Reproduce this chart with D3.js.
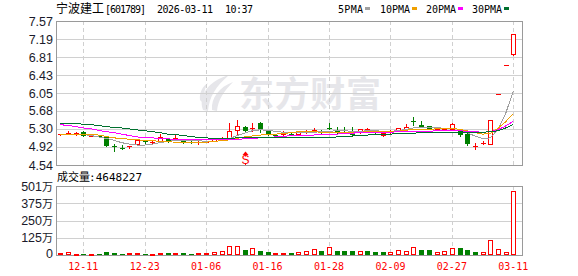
<!DOCTYPE html>
<html><head><meta charset="utf-8">
<script src="https://cdn.jsdelivr.net/npm/d3@7/dist/d3.min.js"></script>
<style>body{margin:0;background:#fff}svg{display:block}</style>
</head><body>
<svg id="c" width="578" height="276"></svg>
<script>
// ---------- data ----------
const open  = [5.19,5.21,5.21,5.24,5.15,5.16,5.12,4.94,4.90,4.91, 4.99,5.04,5.02,5.04,5.08,5.10,5.06,5.03,5.00,5.01, 5.05,5.08,5.10,5.28,5.35,5.30,5.43,5.26,5.18,5.19, 5.20,5.19,5.25,5.27,5.26,5.32,5.25,5.24,5.20,5.23, 5.28,5.24,5.18,5.24,5.26,5.29,5.46,5.39,5.36,5.29, 5.29,5.30,5.26,5.19,4.94,5.00,4.98,6.04,6.64,6.88];
const high  = [5.20,5.26,5.24,5.26,5.16,5.17,5.13,4.99,4.96,4.94, 5.08,5.06,5.04,5.20,5.10,5.19,5.07,5.04,5.04,5.03, 5.10,5.12,5.42,5.48,5.36,5.43,5.44,5.27,5.20,5.25, 5.22,5.24,5.27,5.32,5.27,5.43,5.35,5.35,5.35,5.30, 5.32,5.27,5.22,5.27,5.32,5.41,5.56,5.46,5.37,5.31, 5.31,5.42,5.27,5.21,5.00,5.04,5.49,6.04,6.64,7.30];
const low   = [5.18,5.20,5.17,5.14,5.14,5.14,4.95,4.83,4.88,4.89, 4.98,5.01,5.01,5.03,5.03,5.08,5.01,5.00,4.98,5.00, 5.04,5.06,5.09,5.20,5.24,5.26,5.24,5.18,5.14,5.18, 5.17,5.18,5.22,5.23,5.20,5.29,5.22,5.22,5.16,5.22, 5.26,5.21,5.14,5.22,5.25,5.28,5.39,5.33,5.30,5.28, 5.28,5.29,5.16,4.97,4.88,4.99,4.98,6.04,6.64,6.86];
const close = [5.20,5.22,5.22,5.15,5.16,5.15,4.95,4.93,4.89,4.93, 5.07,5.03,5.03,5.12,5.05,5.11,5.02,5.01,5.02,5.02, 5.08,5.09,5.26,5.36,5.26,5.31,5.30,5.18,5.17,5.23, 5.19,5.23,5.26,5.28,5.23,5.31,5.24,5.23,5.19,5.29, 5.29,5.23,5.21,5.25,5.31,5.33,5.44,5.33,5.30,5.30, 5.30,5.41,5.17,4.98,4.95,5.01,5.49,6.04,6.64,7.30];
// volume in 万 shares
const volume = [17,22,7,8,8,8,22,15,8,14, 15,8,7,15,14,14,14,8,13,14, 22,27,65,65,36,48,31,24,14,14, 14,22,29,43,29,58,29,29,29,29, 29,22,22,22,36,29,58,36,36,22, 29,50,53,36,22,22,109,43,22,464.8];
// volume bar direction: u = up (red), d = down (green)
const volDir = ["u","u","u","d","u","d","d","d","d","u", "u","d","u","u","d","u","d","d","u","u", "u","u","u","u","d","u","d","d","u","u", "d","u","u","u","d","u","d","d","d","u", "d","d","d","u","u","u","u","d","d","u", "u","u","d","d","d","u","u","u","u","u"];
const ma5  = [5.19,5.19,5.19,5.18,5.16,5.13,5.10,5.06,5.01,4.98, 4.96,4.96,4.98,5.01,5.04,5.05,5.05,5.05,5.05,5.04, 5.04,5.05,5.09,5.16,5.21,5.26,5.28,5.27,5.25,5.23, 5.23,5.23,5.22,5.23,5.24,5.25,5.26,5.26,5.25,5.25, 5.26,5.26,5.25,5.25,5.26,5.29,5.32,5.33,5.33,5.33, 5.31,5.31,5.29,5.22,5.15,5.10,5.11,5.29,5.62,6.10];
const ma10 = [5.19,5.19,5.19,5.19,5.18,5.17,5.14,5.11,5.10,5.08, 5.07,5.06,5.05,5.04,5.03,5.02,5.01,5.01,5.01,5.02, 5.04,5.05,5.07,5.10,5.13,5.15,5.17,5.18,5.19,5.20, 5.22,5.24,5.24,5.24,5.23,5.22,5.22,5.22,5.22,5.23, 5.24,5.25,5.25,5.25,5.25,5.27,5.29,5.29,5.29,5.30, 5.30,5.31,5.29,5.26,5.22,5.19,5.20,5.31,5.45,5.62];
const ma20 = [5.39,5.37,5.35,5.32,5.30,5.27,5.24,5.22,5.19,5.16, 5.13,5.12,5.11,5.10,5.09,5.08,5.08,5.07,5.07,5.07, 5.07,5.07,5.08,5.08,5.09,5.10,5.11,5.12,5.13,5.14, 5.16,5.17,5.17,5.17,5.18,5.18,5.19,5.20,5.21,5.22, 5.22,5.23,5.23,5.23,5.24,5.25,5.25,5.25,5.25,5.26, 5.26,5.26,5.26,5.25,5.24,5.23,5.24,5.28,5.36,5.46];
const ma30 = [5.42,5.41,5.41,5.40,5.39,5.37,5.35,5.33,5.32,5.30, 5.28,5.26,5.24,5.22,5.19,5.18,5.16,5.14,5.12,5.11, 5.10,5.10,5.10,5.11,5.11,5.12,5.12,5.12,5.12,5.12, 5.11,5.11,5.11,5.11,5.11,5.12,5.13,5.14,5.15,5.16, 5.17,5.18,5.18,5.19,5.20,5.21,5.21,5.22,5.22,5.22, 5.22,5.23,5.23,5.23,5.23,5.23,5.24,5.26,5.32,5.39];
const priceTicks = [7.57,7.19,6.81,6.43,6.05,5.68,5.30,4.92,4.54];
const priceTickLabels = ["7.57","7.19","6.81","6.43","6.05","5.68","5.30","4.92","4.54"];
const volTicks = [501,375,250,125,0];
const volTickLabels = ["501","375","250","125","0"];
const dateIdx = [3,11,19,27,35,43,51,59];
const dateLabels = ["12-11","12-23","01-06","01-16","01-28","02-09","02-27","03-11"];
const signalIdx = 24;
const title = {name:"宁波建工", code:"[601789]", date:"2026-03-11", time:"10:37"};
const maNames = ["5PMA","10PMA","20PMA","30PMA"];
const maColors = ["#a0a0a0","#f0a000","#ff00ff","#00702e"];
const volTotal = "4648227";

// ---------- layout ----------
const L = 56, R = 522, T = 21, B = 165, VT = 186, VB = 255;
const svg = d3.select("#c");
const x = d3.scaleLinear().domain([3, 59]).range([83.3, 513.3]);
const y = d3.scaleLinear().domain([4.54, 7.57]).range([B, T]);
const yv = d3.scaleLinear().domain([0, 501]).range([VB, VT]);
const RED = "#ff0000", GREEN = "#008000";
const cjk = "'Noto Sans CJK SC', sans-serif";
const mono = "'DejaVu Sans Mono', monospace";
const sans = "'Liberation Sans', Arial, sans-serif";

svg.append("rect").attr("width",578).attr("height",276).attr("fill","#fff");

// header
const hdr = svg.append("g").attr("fill","#000");
hdr.append("text").attr("x",56).attr("y",13).attr("font-family",cjk).attr("font-size",12).text(title.name);
hdr.append("text").attr("x",105).attr("y",13).attr("font-family",mono).attr("font-size",10).attr("textLength",41).text(title.code);
hdr.append("text").attr("x",157).attr("y",13).attr("font-family",mono).attr("font-size",10).attr("textLength",56).text(title.date);
hdr.append("text").attr("x",225).attr("y",13).attr("font-family",mono).attr("font-size",10).attr("textLength",28).text(title.time);

// legend
const legX = [338,380,426,472], legW = [25,30,30,30];
maNames.forEach((n,k)=>{
  hdr.append("text").attr("x",legX[k]).attr("y",12.5).attr("font-family",mono).attr("font-size",10)
     .attr("textLength",legW[k]).text(n);
  svg.append("rect").attr("x",legX[k]+legW[k]+2).attr("y",7).attr("width",5).attr("height",3).attr("fill",maColors[k]);
});

// watermark
const wm = svg.append("g").attr("fill","#e6e6ea");
wm.append("path").attr("d","M203,110 C198,96 208,81 229,75 C216,86 209,97 208,111 Z");
wm.append("path").attr("d","M212,110 C211,98 219,87 233,82 C224,91 218,100 217,111 Z");
wm.append("path").attr("d","M200,100 C199,92 203,86 208,83 C204,90 203,96 204,104 Z");
wm.append("text").attr("x",239).attr("y",107).attr("font-family",cjk).attr("font-weight","bold")
  .attr("font-size",35).attr("textLength",142).text("东方财富");

// grids
const grid = svg.append("g").attr("stroke","#d0d0d0").attr("stroke-width",1).attr("shape-rendering","crispEdges");
priceTicks.slice(1,-1).forEach(v=>{
  const yy = Math.round(y(v))+0.5;
  grid.append("line").attr("x1",L).attr("x2",R).attr("y1",yy).attr("y2",yy);
});
volTicks.slice(1,-1).forEach(v=>{
  const yy = Math.round(yv(v))+0.5;
  grid.append("line").attr("x1",L).attr("x2",R).attr("y1",yy).attr("y2",yy);
});
dateIdx.forEach(i=>{
  const xx = Math.round(x(i))+0.5;
  grid.append("line").attr("x1",xx).attr("x2",xx).attr("y1",T).attr("y2",B).attr("stroke-dasharray","4,3");
  grid.append("line").attr("x1",xx).attr("x2",xx).attr("y1",VT).attr("y2",VB).attr("stroke-dasharray","4,3");
});

// borders
const bd = svg.append("g").attr("fill","none").attr("stroke","#9a9a9a").attr("shape-rendering","crispEdges");
bd.append("rect").attr("x",L+0.5).attr("y",T+0.5).attr("width",R-L).attr("height",B-T);
bd.append("rect").attr("x",L+0.5).attr("y",VT+0.5).attr("width",R-L).attr("height",VB-VT);

// y labels
const yl = svg.append("g").attr("font-family",sans).attr("font-size",12.5).attr("fill","#1a1a2a").attr("text-anchor","end");
priceTicks.forEach((v,k)=>{
  yl.append("text").attr("x",53).attr("y",y(v)+4.5).text(priceTickLabels[k]);
});
volTicks.forEach((v,k)=>{
  const t = yl.append("text").attr("x",53).attr("y",yv(v)+4.5 - (v===0?1.5:0));
  if (v===0) t.text(volTickLabels[k]);
  else { t.append("tspan").text(volTickLabels[k]); t.append("tspan").attr("font-family",cjk).attr("font-size",11).text("万"); }
});

// volume title
svg.append("text").attr("x",57).attr("y",181).attr("font-family",cjk).attr("font-size",11).attr("fill","#000").text("成交量");
svg.append("text").attr("x",89).attr("y",181).attr("font-family",mono).attr("font-size",11).attr("fill","#000")
   .attr("textLength",53).text(":"+volTotal);

// date labels
const xl = svg.append("g").attr("font-family",mono).attr("font-size",10).attr("fill",RED).attr("text-anchor","middle");
dateIdx.forEach((i,k)=>{ xl.append("text").attr("x",x(i)).attr("y",270).text(dateLabels[k]); });

// candles
const cg = svg.append("g").attr("shape-rendering","crispEdges");
d3.range(open.length).forEach(i=>{
  const cx = Math.round(x(i))+0.5;
  const up = close[i] >= open[i];
  const col = up ? RED : GREEN;
  const yTop = Math.round(y(Math.max(open[i],close[i])));
  const yBot = Math.round(y(Math.min(open[i],close[i])));
  const yH = Math.round(y(high[i])), yL = Math.round(y(low[i]));
  if (up) {
    if (yH < yTop) cg.append("line").attr("x1",cx).attr("x2",cx).attr("y1",yH).attr("y2",yTop).attr("stroke",col);
    if (yL > yBot) cg.append("line").attr("x1",cx).attr("x2",cx).attr("y1",yBot).attr("y2",yL+1).attr("stroke",col);
    if (yBot - yTop < 2) {
      cg.append("rect").attr("x",cx-2.5).attr("y",yTop).attr("width",5).attr("height",Math.max(1,yBot-yTop)).attr("fill",col);
    } else {
      cg.append("rect").attr("x",cx-2).attr("y",yTop+0.5).attr("width",4).attr("height",yBot-yTop)
        .attr("fill","#fff").attr("stroke",col);
    }
  } else {
    cg.append("line").attr("x1",cx).attr("x2",cx).attr("y1",yH).attr("y2",yL+1).attr("stroke",col);
    cg.append("rect").attr("x",cx-2.5).attr("y",yTop).attr("width",5).attr("height",Math.max(1,yBot-yTop)).attr("fill",col);
  }
});

// MA lines
const line = d3.line().x((d,i)=>x(i)).y(d=>y(d));
[ma5,ma10,ma20,ma30].forEach((arr,k)=>{
  svg.append("path").attr("d",line(arr)).attr("fill","none").attr("stroke",maColors[k]).attr("stroke-width",1)
     .attr("shape-rendering","crispEdges");
});

// signal marker
const sx = Math.round(x(signalIdx))+0.5;
const sg = svg.append("g").attr("fill",RED).attr("stroke","none");
sg.append("path").attr("d",`M${sx-3},155 L${sx+3},155 L${sx},151.5 Z`);
sg.append("text").attr("x",sx).attr("y",164).attr("text-anchor","middle").attr("font-family",sans).attr("font-size",12).text("S");
sg.append("rect").attr("x",sx-0.5).attr("y",155).attr("width",1).attr("height",1.5);
sg.append("rect").attr("x",sx-0.5).attr("y",163.5).attr("width",1).attr("height",1.5);

// volume bars
const vg = svg.append("g").attr("shape-rendering","crispEdges");
volume.forEach((v,i)=>{
  const cx = Math.round(x(i))+0.5;
  const top = Math.round(yv(v));
  const up = volDir[i] === "u";
  if (up) {
    vg.append("rect").attr("x",cx-2).attr("y",top+0.5).attr("width",4).attr("height",Math.max(1,VB-top-1))
      .attr("fill","#fff").attr("stroke",RED);
  } else {
    vg.append("rect").attr("x",cx-2.5).attr("y",top).attr("width",5).attr("height",VB-top).attr("fill",GREEN);
  }
});
</script>
</body></html>
